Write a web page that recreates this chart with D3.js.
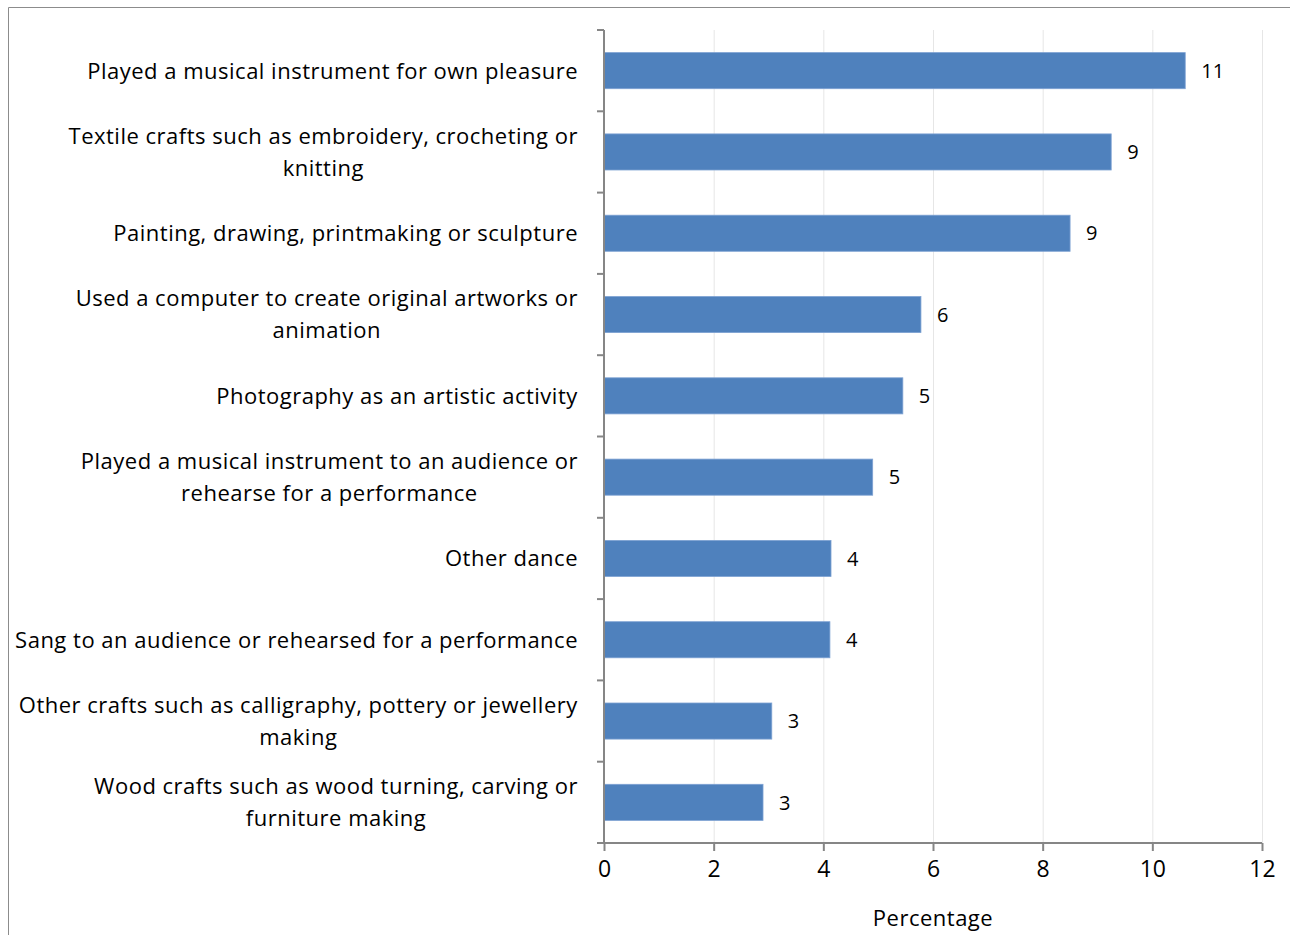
<!DOCTYPE html>
<html><head><meta charset="utf-8">
<script src="https://cdn.jsdelivr.net/npm/d3@7"></script>
<style>body{margin:0;background:#fff}svg{display:block}text{font-family:"Open Sans",Lato,sans-serif;fill:#000}</style>
</head><body>
<svg id="c" width="1290" height="935"></svg>
<script>
const categories = [
  ["Played a musical instrument for own pleasure"],
  ["Textile crafts such as embroidery, crocheting or","knitting"],
  ["Painting, drawing, printmaking or sculpture"],
  ["Used a computer to create original artworks or","animation"],
  ["Photography as an artistic activity"],
  ["Played a musical instrument to an audience or","rehearse for a performance"],
  ["Other dance"],
  ["Sang to an audience or rehearsed for a performance"],
  ["Other crafts such as calligraphy, pottery or jewellery","making"],
  ["Wood crafts such as wood turning, carving or","furniture making"]
];
const values = [10.6, 9.25, 8.5, 5.78, 5.45, 4.9, 4.14, 4.12, 3.06, 2.9];
const valueLabels = ["11","9","9","6","5","5","4","4","3","3"];
const xTicks = [0,2,4,6,8,10,12];
const xTitle = "Percentage";

const svg = d3.select("#c");
const pL = 604, pR = 1262, pT = 30, pB = 843;
const x = d3.scaleLinear().domain([0,12]).range([pL,pR]);
const y = d3.scaleBand().domain(d3.range(categories.length)).range([pT,pB]).paddingInner(0.556).paddingOuter(0.278);
const yb = d3.scaleBand().domain(d3.range(categories.length)).range([pT,pB]);

// outer border
svg.append("path").attr("d","M8.5,935 L8.5,7.5 L1290,7.5").attr("fill","none").attr("stroke","#8c8c8c").attr("stroke-width",1);

// gridlines
svg.append("g").selectAll("line").data(xTicks.slice(1)).join("line")
  .attr("x1",d=>x(d)+0.5).attr("x2",d=>x(d)+0.5).attr("y1",pT).attr("y2",pB)
  .attr("stroke","#e6e6e6").attr("stroke-width",1);

// bars
svg.append("g").selectAll("rect").data(values).join("rect")
  .attr("x",x(0)).attr("y",(d,i)=>y(i)).attr("width",d=>x(d)-x(0)).attr("height",y.bandwidth())
  .attr("fill","#4f81bd").attr("stroke","#7ea2d3").attr("stroke-width",0.8);

// value labels
svg.append("g").selectAll("text").data(values).join("text")
  .attr("x",d=>x(d)+16).attr("y",(d,i)=>y(i)+y.bandwidth()/2).attr("dy","0.36em")
  .attr("font-size",20).text((d,i)=>valueLabels[i]);

// x axis
const xa = svg.append("g").attr("transform",`translate(0,${pB})`)
  .call(d3.axisBottom(x).tickValues(xTicks).tickSize(8).tickPadding(10));
xa.select(".domain").attr("stroke","#868686").attr("stroke-width",2).attr("d",`M${pL},0H${pR}`);
xa.selectAll(".tick line").attr("stroke","#868686").attr("stroke-width",2);
xa.selectAll(".tick text").attr("font-size",23).attr("font-family","Open Sans").attr("fill","#000");

// y axis
const ya = svg.append("g").attr("transform",`translate(${pL},0)`)
  .call(d3.axisLeft(yb).tickValues([]).tickSize(0));
ya.select(".domain").attr("stroke","#868686").attr("stroke-width",2).attr("d",`M0,${pT}V${pB}`);
const tk = d3.range(categories.length+1).map(i=>pT+i*yb.step());
ya.selectAll(".tk").data(tk).join("line").attr("class","tk")
  .attr("x1",-7).attr("x2",0).attr("y1",d=>d).attr("y2",d=>d).attr("stroke","#868686").attr("stroke-width",2);

// category labels
const lab = svg.append("g");
categories.forEach((lines,i)=>{
  const cy = yb(i)+yb.bandwidth()/2;
  const lh = 32;
  const t = lab.append("text").attr("font-size",22).attr("letter-spacing","0.5px").attr("text-anchor","middle");
  lines.forEach((l,j)=>{
    t.append("tspan").attr("x",0).attr("y",cy+(j-(lines.length-1)/2)*lh).attr("dy","0.36em").text(l);
  });
  const w = t.node().getBBox().width;
  t.attr("transform",`translate(${578-w/2},0)`);
});

svg.append("text").attr("x",933).attr("y",918).attr("dy","0.36em").attr("text-anchor","middle")
  .attr("font-size",22).attr("letter-spacing","0.5px").text(xTitle);
</script>
</body></html>
